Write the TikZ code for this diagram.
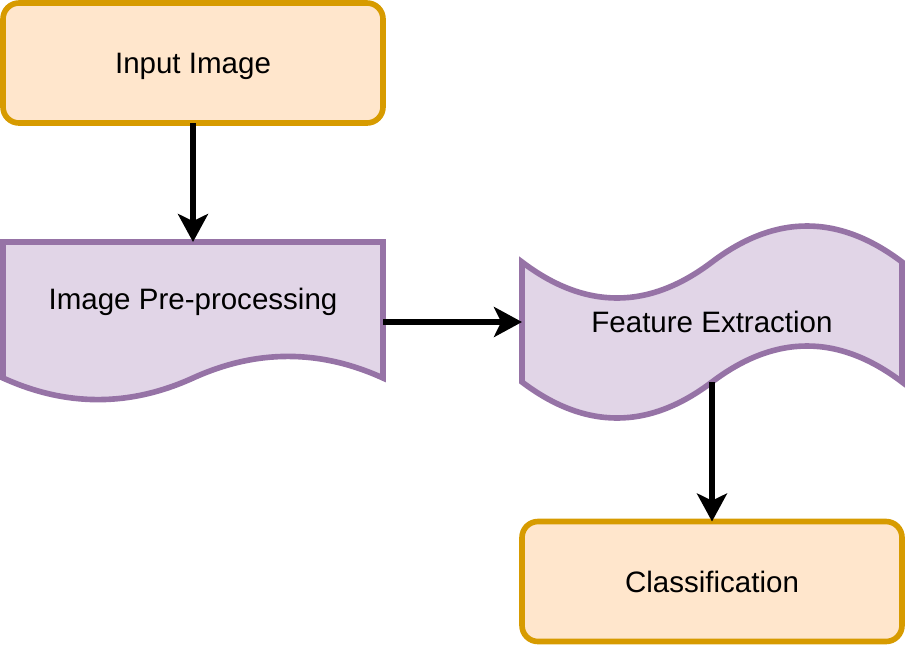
\documentclass[tikz,border=0pt]{standalone}
\usepackage{fontspec}
\setmainfont{Liberation Sans}
\usetikzlibrary{arrows.meta}
\definecolor{orangefill}{HTML}{FFE6CC}
\definecolor{orangeline}{HTML}{D79B00}
\definecolor{purplefill}{HTML}{E1D5E7}
\definecolor{purpleline}{HTML}{9673A6}
\pgfdeclarelayer{bg}
\pgfsetlayers{bg,main}
\tikzset{
    every node/.style={inner sep=0mm, outer sep=0mm, font=\fontsize{21}{25}\selectfont, text height=15pt, text depth=0pt}
}
\tikzset{
    endbox/.style={rectangle, rounded corners=0.4cm, draw=orangeline, fill=orangefill, line width=4pt, minimum width=9.5cm, minimum height=3cm},
    wavebox/.style={rectangle, minimum width=9.5cm},
    waveline/.style={draw=purpleline, fill=purplefill, line width=4pt},
    flow/.style={-{Stealth[length=0.7cm, width=0.75cm, inset=0.18cm]}, line width=4pt}
}

\begin{document}
\begin{tikzpicture}
    \useasboundingbox (0cm, 0cm) rectangle (22.65cm, -16.15cm);

    \node (inp) [endbox] at (4.825cm, -1.575cm) {Input Image};
    \node (pre) [wavebox, minimum height=4cm, label={[yshift=0.575cm]center:Image Pre-processing}] at (4.825cm, -8.05cm) {};
    \node (feat) [wavebox, minimum height=5cm] at (17.8cm, -8.05cm) {Feature Extraction};
    \node (cls) [endbox] at (17.8cm, -14.5375cm) {Classification};

    \begin{pgfonlayer}{bg}
        \draw[waveline, shift={(pre.north west)}] (0,0) -- (9.5,0) -- (9.5,-3.4)
            .. controls (7.9167,-2.68) and (6.3333,-2.68) .. (4.75,-3.4)
            .. controls (3.1667,-4.12) and (1.5833,-4.12) .. (0,-3.4) -- cycle;
        \draw[waveline, shift={(feat.north west)}] (0,-1)
            .. controls (1.5833,-2.2) and (3.1667,-2.2) .. (4.75,-1)
            .. controls (6.3333,0.2) and (7.9167,0.2) .. (9.5,-1) -- (9.5,-4)
            .. controls (7.9167,-2.8) and (6.3333,-2.8) .. (4.75,-4)
            .. controls (3.1667,-5.2) and (1.5833,-5.2) .. (0,-4) -- cycle;
    \end{pgfonlayer}

    \draw[flow] (inp) -- (pre);
    \draw[flow] (pre) -- (feat);
    \draw[flow, shorten <=-1cm] (feat) -- (cls);
\end{tikzpicture}
\end{document}
